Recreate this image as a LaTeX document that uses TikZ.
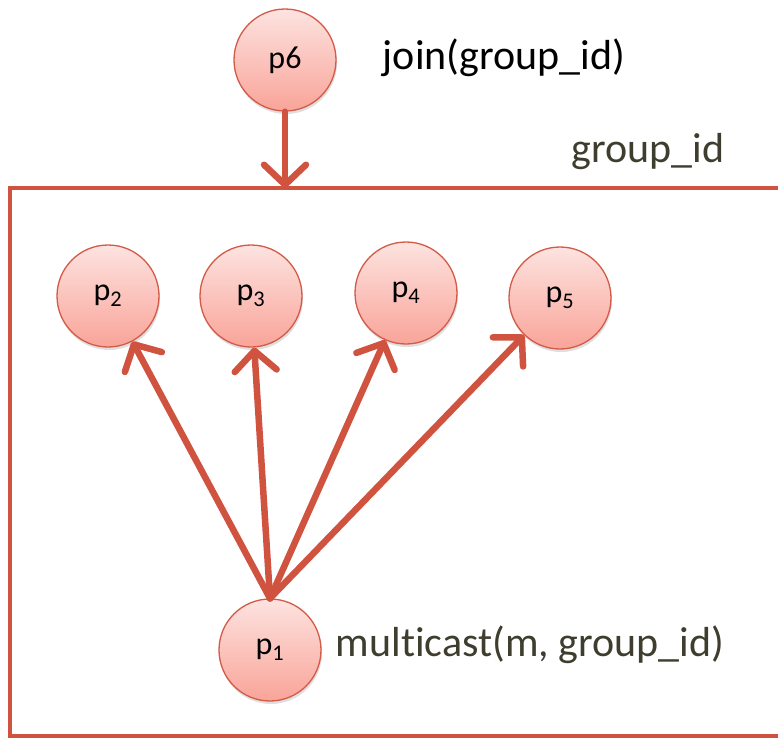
\documentclass[tikz,border=0pt]{standalone}
\usepackage{fontspec}
\setmainfont{Carlito}[Ligatures={NoCommon}]
\usetikzlibrary{arrows.meta,shadows}
\definecolor{arr}{HTML}{D0533F}
\definecolor{ring}{HTML}{D35A47}
\definecolor{topc}{HTML}{FDE3E0}
\definecolor{botc}{HTML}{F9A499}
\definecolor{olive}{HTML}{3E3D2E}
\tikzset{
  proc/.style={circle, minimum size=102pt, inner sep=0pt, draw=ring, line width=1.3pt,
    top color=topc, bottom color=botc, font=\fontsize{32}{36}\selectfont,
    drop shadow={shadow xshift=1pt, shadow yshift=-3pt, opacity=0.25}},
  conn/.style={draw=arr, line width=6.5pt, line cap=round,
    -{Straight Barb[length=20pt, width=42pt, line cap=round, line join=round]}},
  lbl/.style={font=\fontsize{42}{48}\selectfont, inner sep=0pt},
  frame/.style={draw=arr, line width=4pt}
}
\begin{document}
\begin{tikzpicture}[x=1pt,y=-1pt]
\useasboundingbox (0,0) rectangle (778,739);
% group frame
\coordinate (fr1) at (790,188);
\coordinate (fr2) at (10,188);
\coordinate (fr3) at (10,736);
\coordinate (fr4) at (790,736);
\coordinate (boxtop) at (285,188);
\draw[frame] (fr1) -- (fr2) -- (fr3) -- (fr4);
% nodes
\node[proc] (p6) at (285,60) {p6};
\node[proc] (p2) at (108,296) {p\textsubscript{2}};
\node[proc] (p3) at (251,296) {p\textsubscript{3}};
\node[proc] (p4) at (406,293) {p\textsubscript{4}};
\node[proc] (p5) at (560,298) {p\textsubscript{5}};
\node[proc] (p1) at (270,650) {p\textsubscript{1}};
% labels
\node[lbl, text=black] (tjoin) at (504,58) {join(group\_id)};
\node[lbl, text=olive] (tgroup) at (648,152) {group\_id};
\node[lbl, text=olive] (tmc) at (530,645) {multicast(m, group\_id)};
% connectors
\draw[conn] (p6) -- (boxtop);
\draw[conn] (p1.north) -- (p2);
\draw[conn] (p1.north) -- (p3);
\draw[conn] (p1.north) -- (p4);
\draw[conn] (p1.north) -- (p5);
\end{tikzpicture}
\end{document}
